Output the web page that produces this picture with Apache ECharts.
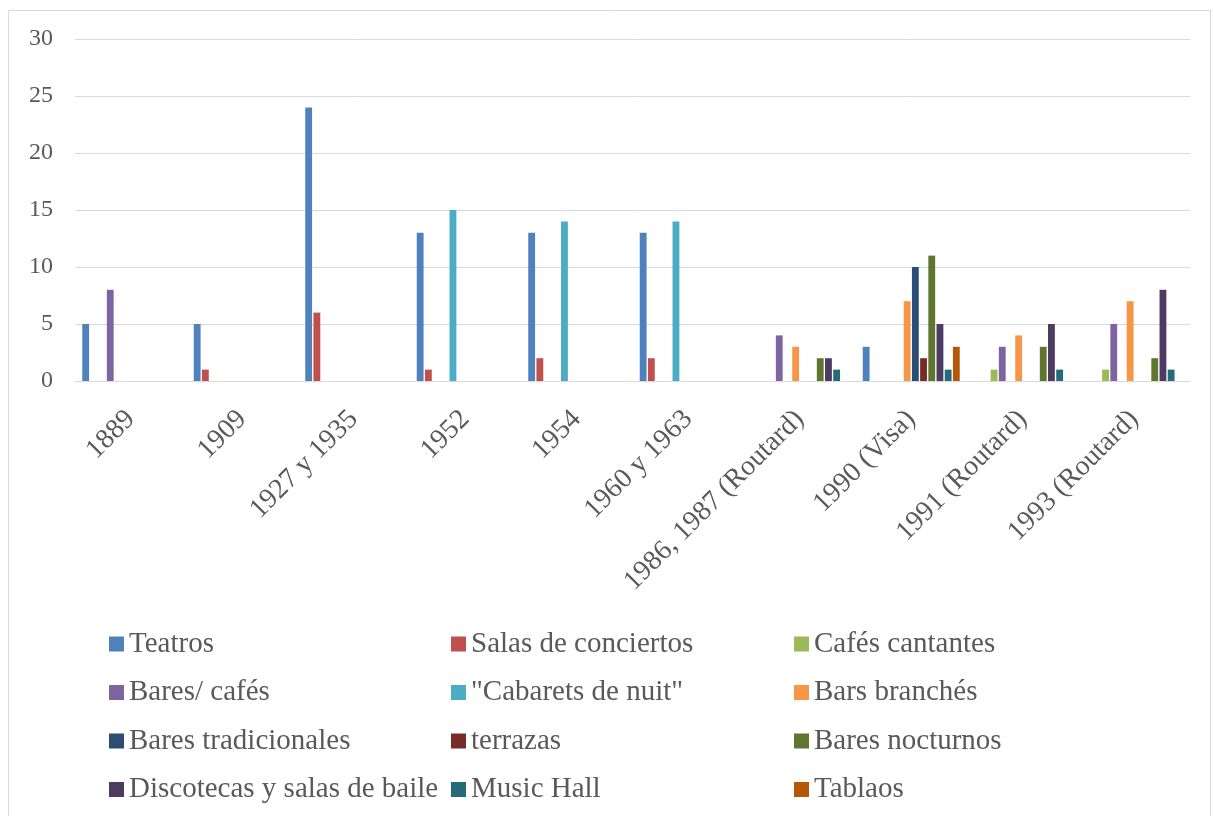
<!DOCTYPE html>
<html>
<head>
<meta charset="utf-8">
<script src="https://cdn.jsdelivr.net/npm/echarts@6/dist/echarts.min.js"></script>
<style>
html,body{margin:0;padding:0;background:#fff;}
#chart{width:1213px;height:816px;}
</style>
</head>
<body>
<div id="chart"></div>
<script>
const categories = ['1889','1909','1927 y 1935','1952','1954','1960 y 1963','1986, 1987 (Routard)','1990 (Visa)','1991 (Routard)','1993 (Routard)'];
const seriesNames = ['Teatros','Salas de conciertos','Cafés cantantes','Bares/ cafés','"Cabarets de nuit"','Bars branchés','Bares tradicionales','terrazas','Bares nocturnos','Discotecas y salas de baile','Music Hall','Tablaos'];
const teatros            = [5, 5, 24, 13, 13, 13, null, 3, null, null];
const salasConciertos    = [null, 1, 6, 1, 2, 2, null, null, null, null];
const cafesCantantes     = [null, null, null, null, null, null, null, null, 1, 1];
const baresCafes         = [8, null, null, null, null, null, 4, null, 3, 5];
const cabarets           = [null, null, null, 15, 14, 14, null, null, null, null];
const barsBranches       = [null, null, null, null, null, null, 3, 7, 4, 7];
const baresTradicionales = [null, null, null, null, null, null, null, 10, null, null];
const terrazas           = [null, null, null, null, null, null, null, 2, null, null];
const baresNocturnos     = [null, null, null, null, null, null, 2, 11, 3, 2];
const discotecas         = [null, null, null, null, null, null, 2, 5, 5, 8];
const musicHall          = [null, null, null, null, null, null, 1, 1, 1, 1];
const tablaos            = [null, null, null, null, null, null, null, 3, null, null];
const yTicks = [0, 5, 10, 15, 20, 25, 30];

const seriesData = [teatros, salasConciertos, cafesCantantes, baresCafes, cabarets, barsBranches, baresTradicionales, terrazas, baresNocturnos, discotecas, musicHall, tablaos];
const colors = ['#4F81BD','#C0504D','#9BBB59','#8064A2','#4BACC6','#F79646','#2C4D75','#772C2A','#5F7530','#4D3B62','#276A7C','#B65708'];

const font = 'Liberation Serif, Times New Roman, serif';
const textColor = '#595959';

const chart = echarts.init(document.getElementById('chart'));
const series = seriesNames.map((n, i) => ({
  name: n,
  type: 'bar',
  data: seriesData[i],
  itemStyle: { color: colors[i] },
  barGap: '20%',
  barCategoryGap: '13%',
  animation: false
}));

function legendCol(names, left) {
  return {
    orient: 'vertical',
    left: left,
    top: 629,
    padding: 0,
    data: names,
    icon: 'rect',
    itemWidth: 15,
    itemHeight: 15,
    itemGap: 18.5,
    textStyle: { fontFamily: font, fontSize: 29, color: textColor, lineHeight: 30 },
    selectedMode: false
  };
}

chart.setOption({
  color: colors,
  animation: false,
  graphic: [{
    type: 'rect',
    shape: { x: 8.5, y: 10.5, width: 1202, height: 806 },
    style: { fill: 'none', stroke: '#d9d9d9', lineWidth: 1 },
    silent: true
  }],
  grid: { left: 75, right: 23, top: 39, bottom: 435, containLabel: false },
  legend: [
    legendCol([seriesNames[0], seriesNames[3], seriesNames[6], seriesNames[9]], 109),
    legendCol([seriesNames[1], seriesNames[4], seriesNames[7], seriesNames[10]], 451),
    legendCol([seriesNames[2], seriesNames[5], seriesNames[8], seriesNames[11]], 794)
  ],
  xAxis: {
    type: 'category',
    data: categories,
    axisLine: { lineStyle: { color: '#d9d9d9', width: 1 } },
    axisTick: { show: false },
    axisLabel: { rotate: 45, interval: 0, margin: 34, fontFamily: font, fontSize: 28, color: textColor }
  },
  yAxis: {
    type: 'value',
    min: yTicks[0],
    max: yTicks[yTicks.length - 1],
    interval: 5,
    axisLine: { show: false },
    axisTick: { show: false },
    splitLine: { lineStyle: { color: '#d9d9d9', width: 1 } },
    axisLabel: { margin: 22, fontFamily: font, fontSize: 24, color: textColor }
  },
  series: series
});
</script>
</body>
</html>
